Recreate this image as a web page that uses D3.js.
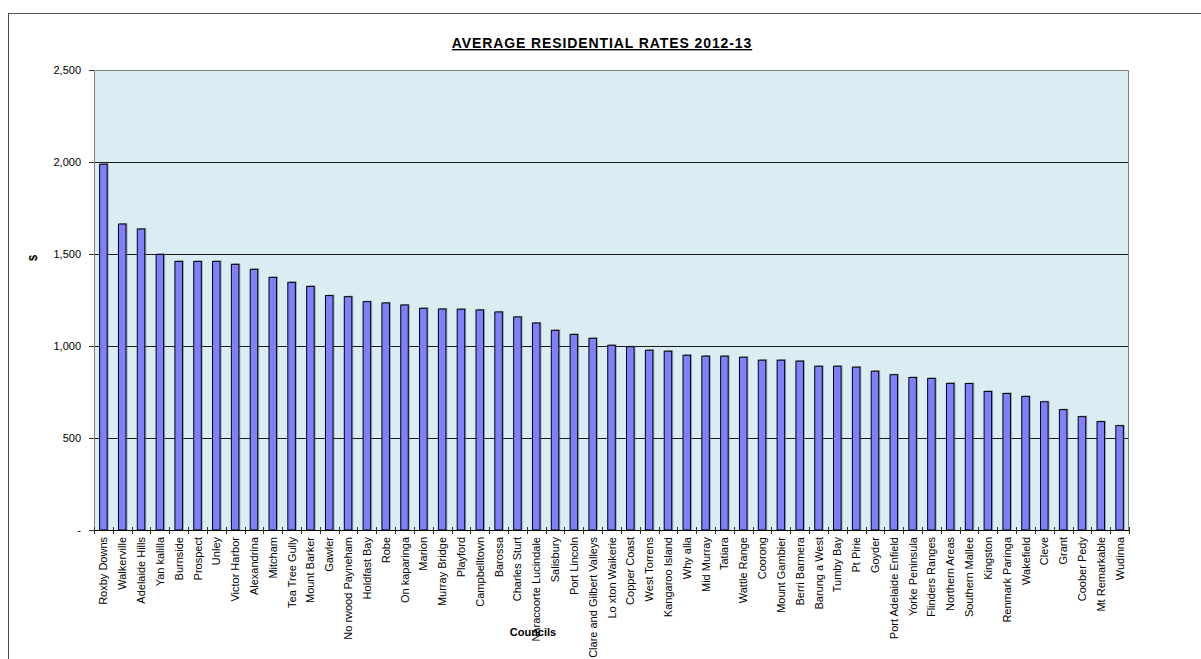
<!DOCTYPE html>
<html>
<head>
<meta charset="utf-8">
<script src="https://cdn.jsdelivr.net/npm/d3@7"></script>
<style>
  body { margin: 0; background: #fff; }
  text { font-family: Arial, "Liberation Sans", sans-serif; fill: #000; }
</style>
</head>
<body>
<div class="chart"></div>
<script>
var councils = ["Roxby Downs", "Walkerville", "Adelaide Hills", "Yan kalilla", "Burnside", "Prospect",
  "Unley", "Victor Harbor", "Alexandrina", "Mitcham", "Tea Tree Gully", "Mount Barker", "Gawler",
  "No rwood Payneham", "Holdfast Bay", "Robe", "On kaparinga", "Marion", "Murray Bridge", "Playford",
  "Campbelltown", "Barossa", "Charles Sturt", "Naracoorte Lucindale", "Salisbury", "Port Lincoln",
  "Clare and Gilbert Valleys", "Lo xton Waikerie", "Copper Coast", "West Torrens", "Kangaroo Island",
  "Why alla", "Mid Murray", "Tatiara", "Wattle Range", "Coorong", "Mount Gambier", "Berri Barmera",
  "Barung a West", "Tumby Bay", "Pt Pirie", "Goyder", "Port Adelaide Enfield", "Yorke Peninsula",
  "Flinders Ranges", "Northern Areas", "Southern Mallee", "Kingston", "Renmark Paringa", "Wakefield",
  "Cleve", "Grant", "Coober Pedy", "Mt Remarkable", "Wudinna"];

var rates = [1988, 1663, 1636, 1498, 1460, 1460, 1460, 1444, 1417, 1373, 1346, 1324, 1274,
  1268, 1241, 1234, 1223, 1205, 1201, 1200, 1196, 1185, 1158, 1125, 1085, 1063,
  1042, 1004, 996, 977, 972, 950, 945, 945, 939, 923, 923, 918,
  890, 890, 885, 863, 844, 829, 824, 797, 796, 753, 742, 726,
  697, 654, 616, 589, 567];

var yTicks = [0, 500, 1000, 1500, 2000, 2500];

var svgWidth = 1201;
var svgHeight = 659;
var margin = { top: 70, right: 72, bottom: 129, left: 94 };
var width = svgWidth - margin.left - margin.right;
var height = svgHeight - margin.top - margin.bottom;

var svg = d3.select(".chart")
  .append("svg")
  .attr("width", svgWidth)
  .attr("height", svgHeight);

// outer chart border (runs off the right and bottom edges)
svg.append("rect")
  .attr("x", 8.5).attr("y", 13.5)
  .attr("width", 1210).attr("height", 700)
  .attr("fill", "none")
  .attr("stroke", "#4d4d4d");

// title
svg.append("text")
  .attr("x", 602).attr("y", 48)
  .attr("text-anchor", "middle")
  .style("font-size", "14px")
  .style("font-weight", "bold")
  .style("letter-spacing", "0.9px")
  .style("text-decoration", "underline")
  .text("AVERAGE RESIDENTIAL RATES 2012-13");

var chartGroup = svg.append("g")
  .attr("transform", `translate(${margin.left}, ${margin.top})`);

var xScale = d3.scaleBand()
  .domain(councils)
  .range([0, width])
  .paddingInner(0.6)
  .paddingOuter(0.3);

var yScale = d3.scaleLinear()
  .domain([0, 2500])
  .range([height, 0]);

// plot background
chartGroup.append("rect")
  .attr("width", width).attr("height", height)
  .attr("fill", "#daedf3");

// gridlines
chartGroup.selectAll(".grid")
  .data(yTicks.slice(1, -1))
  .enter()
  .append("line")
  .attr("x1", 0).attr("x2", width)
  .attr("y1", d => Math.round(yScale(d)) + 0.5)
  .attr("y2", d => Math.round(yScale(d)) + 0.5)
  .attr("stroke", "#1a1a1a");

// plot frame
chartGroup.append("path")
  .attr("d", `M0.5,${height}V0.5H${width - 0.5}V${height}`)
  .attr("fill", "none")
  .attr("stroke", "#808080");

// bar shadows
chartGroup.selectAll(".shadow")
  .data(rates)
  .enter()
  .append("rect")
  .attr("x", (d, i) => xScale(councils[i]) + 1.5)
  .attr("y", d => yScale(d) - 1)
  .attr("width", xScale.bandwidth())
  .attr("height", d => height - yScale(d) + 1)
  .attr("fill", "#707070")
  .attr("opacity", 0.55);

// bars
chartGroup.selectAll(".bar")
  .data(rates)
  .enter()
  .append("rect")
  .attr("x", (d, i) => xScale(councils[i]))
  .attr("y", d => yScale(d))
  .attr("width", xScale.bandwidth())
  .attr("height", d => height - yScale(d))
  .attr("fill", "#8080ff")
  .attr("stroke", "#000")
  .attr("stroke-width", 1);

// y axis
var leftAxis = d3.axisLeft(yScale)
  .tickValues(yTicks)
  .tickSize(5)
  .tickPadding(8)
  .tickFormat(d => d === 0 ? "-" : d3.format(",")(d));

var yAxis = chartGroup.append("g").call(leftAxis);
yAxis.select(".domain").attr("stroke", "#808080");
yAxis.selectAll(".tick line").attr("stroke", "#333");
yAxis.selectAll("text")
  .style("font-size", "11px")
  .attr("fill", "#000");

// x axis baseline and cross ticks at category boundaries
var step = xScale.step();
var bounds = d3.range(councils.length + 1).map(i => i * step);
chartGroup.append("line")
  .attr("x1", 0).attr("x2", width)
  .attr("y1", height + 0.5).attr("y2", height + 0.5)
  .attr("stroke", "#000");
chartGroup.selectAll(".xtick")
  .data(bounds)
  .enter()
  .append("line")
  .attr("x1", d => Math.round(d) + 0.5)
  .attr("x2", d => Math.round(d) + 0.5)
  .attr("y1", height - 3)
  .attr("y2", height + 4)
  .attr("stroke", "#333");

// x labels
chartGroup.selectAll(".xlabel")
  .data(councils)
  .enter()
  .append("text")
  .attr("transform", d => `translate(${xScale(d) + xScale.bandwidth() / 2 + 4}, ${height + 7}) rotate(-90)`)
  .attr("text-anchor", "end")
  .style("font-size", "11px")
  .text(d => d);

// axis titles
svg.append("text")
  .attr("x", 533).attr("y", 636)
  .attr("text-anchor", "middle")
  .style("font-size", "11px")
  .style("font-weight", "bold")
  .text("Councils");

svg.append("text")
  .attr("transform", "translate(37, 258) rotate(-90)")
  .attr("text-anchor", "middle")
  .style("font-size", "11px")
  .style("font-weight", "bold")
  .text("$");
</script>
</body>
</html>
